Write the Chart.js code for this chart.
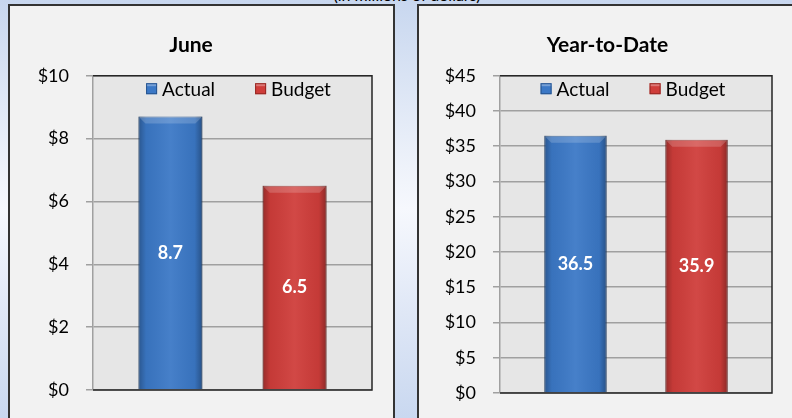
<!DOCTYPE html>
<html>
<head>
<meta charset="utf-8">
<script src="https://cdn.jsdelivr.net/npm/chart.js@4.4.1/dist/chart.umd.min.js"></script>
<style>
  html, body { margin: 0; padding: 0; }
  body {
    width: 792px; height: 418px; overflow: hidden; position: relative;
    background: linear-gradient(to bottom, #c8d7ef 0%, #eef2fa 40%, #f6f8fd 50%, #dfe7f6 75%, #c9d8f0 100%);
    font-family: Lato, 'Open Sans', sans-serif;
  }
  .note { position: absolute; left: 0; width: 814px; top: -13px; text-align: center; font-size: 16px; line-height: 16px; color: #000; }
  .panel { position: absolute; top: 4px; height: 440px; background: #f2f2f2; border: 2px solid #333; box-sizing: border-box; }
  #p1 { left: 8px; width: 387px; }
  #p2 { left: 417px; width: 400px; }
  canvas { position: absolute; left: 0; top: 0; }
</style>
</head>
<body>
<div class="note">(in millions of dollars)</div>
<div class="panel" id="p1"><canvas id="c1" width="383" height="412"></canvas></div>
<div class="panel" id="p2"><canvas id="c2" width="373" height="412"></canvas></div>

<script>
// ---- data ----
const periods = ['June', 'Year-to-Date'];
const seriesNames = ['Actual', 'Budget'];
const actualValues = [8.7, 36.5];
const budgetValues = [6.5, 35.9];
const axisMax = [10, 45];
const axisStep = [2, 5];

const seriesColors = ['#3b78c6', '#cf3d3a'];
const seriesEdges = ['#27548f', '#952824'];
const FONT = "Lato, 'Open Sans', sans-serif";

// plot background + frame, bar shading, value labels, legend inside plot
const plotDecor = {
  id: 'plotDecor',
  beforeDraw(chart) {
    const { ctx, chartArea: a } = chart;
    ctx.save();
    ctx.fillStyle = '#e6e6e6';
    ctx.fillRect(a.left, a.top, a.width, a.height);
    ctx.restore();
  },
  afterDatasetsDraw(chart, args, opts) {
    const { ctx, chartArea: a } = chart;
    ctx.save();

    // bevel look on bars
    chart.data.datasets.forEach((ds, di) => {
      chart.getDatasetMeta(di).data.forEach((el) => {
        const { x, y, base, width } = el.getProps(['x', 'y', 'base', 'width'], true);
        const l = x - width / 2;
        const g = ctx.createLinearGradient(l, 0, l + width, 0);
        g.addColorStop(0, 'rgba(0,0,0,0.28)');
        g.addColorStop(0.12, 'rgba(0,0,0,0.05)');
        g.addColorStop(0.5, 'rgba(255,255,255,0.06)');
        g.addColorStop(0.88, 'rgba(0,0,0,0.05)');
        g.addColorStop(1, 'rgba(0,0,0,0.32)');
        ctx.fillStyle = g;
        ctx.fillRect(l, y, width, base - y);
        ctx.fillStyle = 'rgba(255,255,255,0.18)';
        ctx.beginPath();
        ctx.moveTo(l, y);
        ctx.lineTo(l + width, y);
        ctx.lineTo(l + width - 7, y + 7);
        ctx.lineTo(l + 7, y + 7);
        ctx.closePath();
        ctx.fill();
      });
    });

    // frame: top, right, bottom
    ctx.strokeStyle = '#262626';
    ctx.lineWidth = 1.5;
    ctx.beginPath();
    ctx.moveTo(a.left, a.top);
    ctx.lineTo(a.right, a.top);
    ctx.lineTo(a.right, a.bottom);
    ctx.lineTo(a.left, a.bottom);
    ctx.stroke();

    // value labels
    ctx.font = 'bold 18px ' + FONT;
    ctx.fillStyle = '#ffffff';
    ctx.textAlign = 'center';
    ctx.textBaseline = 'middle';
    chart.data.datasets.forEach((ds, di) => {
      chart.getDatasetMeta(di).data.forEach((el, i) => {
        const { x, y, base } = el.getProps(['x', 'y', 'base'], true);
        ctx.fillText(ds.data[i].toFixed(1), x, (y + base) / 2);
      });
    });

    // legend
    ctx.font = '19px ' + FONT;
    ctx.textAlign = 'left';
    const box = 11, gapText = 5, gapItem = 40;
    const items = chart.data.datasets.map((ds) => ds.label);
    const widths = items.map((t) => box + gapText + ctx.measureText(t).width);
    const total = widths.reduce((s, w) => s + w, 0) + gapItem * (items.length - 1);
    let lx = (a.left + a.right) / 2 - total / 2 + (opts.shift || 0);
    const ly = a.top + 13;
    items.forEach((t, i) => {
      ctx.fillStyle = seriesColors[i];
      ctx.fillRect(lx, ly - box / 2, box, box);
      ctx.fillStyle = 'rgba(255,255,255,0.3)';
      ctx.fillRect(lx, ly - box / 2, box, 3);
      ctx.strokeStyle = seriesEdges[i];
      ctx.lineWidth = 1;
      ctx.strokeRect(lx + 0.5, ly - box / 2 + 0.5, box - 1, box - 1);
      ctx.fillStyle = '#000';
      ctx.fillText(t, lx + box + gapText, ly + 1);
      lx += widths[i] + gapItem;
    });

    ctx.restore();
  }
};

function makeChart(id, idx, axisWidth, padLeft, padRight, padBottom, legendShift) {
  const values = [actualValues[idx], budgetValues[idx]];
  return new Chart(document.getElementById(id), {
    type: 'bar',
    data: {
      labels: [periods[idx]],
      datasets: seriesNames.map((name, i) => ({
        label: name,
        data: [values[i]],
        backgroundColor: seriesColors[i],
        borderColor: seriesEdges[i],
        borderWidth: 1,
        categoryPercentage: 0.89,
        barPercentage: 0.515,
      })),
    },
    options: {
      responsive: false,
      animation: false,
      layout: { padding: { left: padLeft, right: padRight, top: 0, bottom: padBottom } },
      plugins: {
        legend: { display: false },
        tooltip: { enabled: false },
        title: {
          display: true,
          text: periods[idx],
          color: '#000',
          font: { family: FONT, size: 21, weight: 'bold', lineHeight: 1.2 },
          padding: { top: 27, bottom: 17.5 },
        },
        plotDecor: { shift: legendShift },
      },
      scales: {
        x: { display: false },
        y: {
          min: 0,
          max: axisMax[idx],
          ticks: {
            stepSize: axisStep[idx],
            color: '#000',
            padding: 17,
            font: { family: FONT, size: 18 },
            callback: (v) => '$' + v,
          },
          grid: { color: '#a0a0a0', lineWidth: 1.5, tickLength: 7 },
          border: { display: true, color: '#a0a0a0', width: 1.5 },
          afterFit: (s) => {
            s.width = axisWidth;
            s.paddingTop = 0;
            s.paddingBottom = 0;
          },
        },
      },
    },
    plugins: [plotDecor],
  });
}

makeChart('c1', 0, 83, 0, 21, 28, 6);
makeChart('c2', 1, 57, 24, 20, 25, -3);
</script>
</body>
</html>
